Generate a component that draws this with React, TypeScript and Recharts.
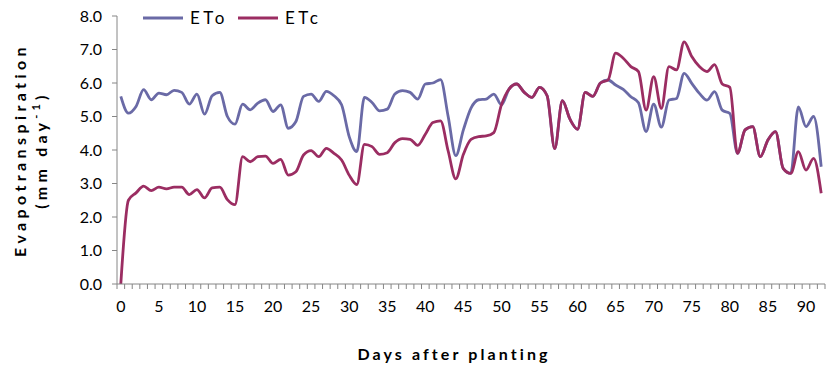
import { LineChart, Line, XAxis, YAxis, Legend } from 'recharts';

const days = Array.from({ length: 93 }, (_, i) => i);

const eto = [
  5.6, 5.1, 5.3, 5.8, 5.5, 5.7, 5.65, 5.78, 5.72, 5.37,
  5.67, 5.07, 5.62, 5.72, 5.0, 4.77, 5.37, 5.2, 5.4, 5.5,
  5.15, 5.35, 4.65, 4.85, 5.6, 5.67, 5.45, 5.75, 5.62, 5.35,
  4.4, 3.95, 5.57, 5.42, 5.17, 5.22, 5.67, 5.77, 5.72, 5.52,
  5.97, 6.0, 6.1, 5.0, 3.83, 4.6, 5.25, 5.5, 5.52, 5.67,
  5.35, 5.82, 5.97, 5.72, 5.57, 5.87, 5.62, 4.04, 5.47, 4.92,
  4.62, 5.72, 5.6, 6.0, 6.09, 5.94, 5.81, 5.59, 5.41, 4.55,
  5.37, 4.68, 5.49, 5.54, 6.29, 5.99, 5.69, 5.49, 5.74, 5.19,
  5.09, 3.9, 4.6, 4.7, 3.8, 4.3, 4.55, 3.45, 3.3, 5.29,
  4.7, 5.0, 3.5,
];

const etc = [
  0.0, 2.5, 2.72, 2.92, 2.79, 2.89, 2.84, 2.89, 2.89, 2.67,
  2.82, 2.57, 2.87, 2.89, 2.52, 2.37, 3.8, 3.65, 3.8, 3.82,
  3.6, 3.72, 3.25, 3.35, 3.85, 3.98, 3.8, 4.05, 3.9, 3.7,
  3.25, 2.97, 4.17, 4.1, 3.87, 3.92, 4.22, 4.34, 4.32, 4.14,
  4.47, 4.82, 4.87, 3.97, 3.14, 3.87, 4.32, 4.4, 4.42, 4.52,
  5.35, 5.82, 5.97, 5.72, 5.57, 5.87, 5.62, 4.04, 5.47, 4.92,
  4.62, 5.72, 5.6, 6.0, 6.09, 6.89, 6.74, 6.49, 6.34, 5.19,
  6.19, 5.24, 6.49, 6.39, 7.23, 6.79, 6.49, 6.34, 6.55, 5.97,
  5.87, 3.9, 4.6, 4.7, 3.8, 4.3, 4.55, 3.45, 3.3, 3.95,
  3.4, 3.75, 2.71,
];

const xTickLabels = [0, 5, 10, 15, 20, 25, 30, 35, 40, 45, 50, 55, 60, 65, 70, 75, 80, 85, 90];
const yTicks = [0, 1, 2, 3, 4, 5, 6, 7, 8];

const data = days.map((d, i) => ({ day: d, ETo: eto[i], ETc: etc[i] }));

// tick marks sit between the days, labels on every 5th day
const tickMarks = days.concat([days.length]).map((d) => d - 0.5);
const xTicks = [...tickMarks, ...xTickLabels];

const FONT = 'Lato, "Open Sans", sans-serif';
const AXIS = '#868686';
const ETO_COLOR = '#6a6aa6';
const ETC_COLOR = '#9b2d62';

const XTick = (props: any) => {
  const { x, y, payload } = props;
  const v = payload.value;
  if (!Number.isInteger(v)) {
    return <line x1={x} y1={y} x2={x} y2={y + 5} stroke={AXIS} />;
  }
  return (
    <text x={x} y={y + 28} textAnchor="middle" fontSize={16} fill="#000" fontFamily={FONT}>
      {v}
    </text>
  );
};

const YTitle = (props: any) => {
  const vb = props.viewBox;
  const cy = vb.y + vb.height / 2;
  return (
    <g fontFamily={FONT} fontWeight="bold" fontSize={16} fill="#000">
      <text x={22} y={cy} transform={`rotate(-90 22 ${cy})`} textAnchor="middle" dominantBaseline="middle" letterSpacing={4.4}>
        Evapotranspiration
      </text>
      <text x={43} y={cy} transform={`rotate(-90 43 ${cy})`} textAnchor="middle" dominantBaseline="middle" letterSpacing={4.2}>
        (mm day<tspan dy={-6} fontSize={11}>-1</tspan><tspan dy={6}>)</tspan>
      </text>
    </g>
  );
};

const XTitle = (props: any) => {
  const vb = props.viewBox;
  return (
    <text x={vb.x + vb.width / 2 - 17} y={360} textAnchor="middle" fontFamily={FONT} fontWeight="bold" fontSize={16} fill="#000" letterSpacing={3.1}>
      Days after planting
    </text>
  );
};

const LegendContent = () => (
  <div style={{ display: 'flex', alignItems: 'center', fontFamily: FONT, fontSize: 17 }}>
    {[
      { name: 'ETo', color: ETO_COLOR },
      { name: 'ETc', color: ETC_COLOR },
    ].map((s) => (
      <div key={s.name} style={{ display: 'flex', alignItems: 'center', marginRight: 10 }}>
        <svg width={40} height={6}>
          <line x1={0} y1={3} x2={40} y2={3} stroke={s.color} strokeWidth={3} />
        </svg>
        <span style={{ marginLeft: 7, letterSpacing: 3.5, lineHeight: '20px' }}>{s.name}</span>
      </div>
    ))}
  </div>
);

export default function App() {
  return (
    <div style={{ position: 'absolute', left: 0, top: 0, background: '#fff' }}>
      <LineChart width={826} height={371} data={data} margin={{ top: 16, right: 1, left: 0, bottom: 0 }}>
        <XAxis
          dataKey="day"
          type="number"
          domain={[-0.5, 92.5]}
          ticks={xTicks}
          interval={0}
          tick={<XTick />}
          tickLine={false}
          tickSize={0}
          tickMargin={0}
          height={87}
          stroke={AXIS}
          label={<XTitle />}
        />
        <YAxis
          domain={[0, 8]}
          ticks={yTicks}
          interval={0}
          tickFormatter={(v: number) => v.toFixed(1)}
          width={117}
          tickSize={5}
          tickMargin={10}
          stroke={AXIS}
          tick={{ fill: '#000', fontSize: 16, fontFamily: FONT }}
          label={<YTitle />}
        />
        <Legend
          layout="vertical"
          align="center"
          verticalAlign="middle"
          content={<LegendContent />}
          wrapperStyle={{ position: 'absolute', top: 8, left: 143, width: 'auto' }}
        />
        <Line type="monotone" dataKey="ETo" stroke={ETO_COLOR} strokeWidth={2.8} dot={false} isAnimationActive={false} />
        <Line type="monotone" dataKey="ETc" stroke={ETC_COLOR} strokeWidth={2.8} dot={false} isAnimationActive={false} />
      </LineChart>
    </div>
  );
}
